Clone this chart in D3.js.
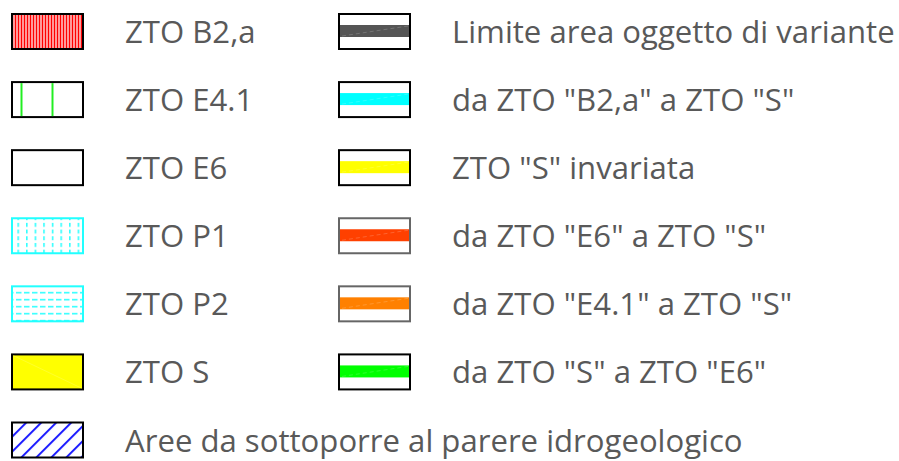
<!DOCTYPE html>
<html><head><meta charset="utf-8">
<script src="https://cdn.jsdelivr.net/npm/d3@7"></script>
<style>body{margin:0;background:#fff}svg{display:block}</style>
</head><body>
<svg id="c" width="899" height="461"></svg>
<script>
// legend data
const leftLabels = ["ZTO B2,a","ZTO E4.1","ZTO E6","ZTO P1","ZTO P2","ZTO S","Aree da sottoporre al parere idrogeologico"];
const leftKinds  = ["redStripes","greenLines","plain","cyanVDash","cyanHDash","yellow","blueHatch"];
const rightLabels = ["Limite area oggetto di variante","da ZTO \"B2,a\" a ZTO \"S\"","ZTO \"S\" invariata","da ZTO \"E6\" a ZTO \"S\"","da ZTO \"E4.1\" a ZTO \"S\"","da ZTO \"S\" a ZTO \"E6\""];
const rightBands  = ["#555555","#00ffff","#ffff00","#ff4000","#ff8000","#00ff00"];
const rightBorders = ["#000","#000","#000","#666","#666","#000"];

const svg = d3.select("#c");
const defs = svg.append("defs");

// patterns
const p1 = defs.append("pattern").attr("id","redStripes").attr("patternUnits","userSpaceOnUse").attr("width",3).attr("height",10);
p1.append("rect").attr("width",3).attr("height",10).attr("fill","#fff");
p1.append("rect").attr("x",0.6).attr("width",1.8).attr("height",10).attr("fill","#ff0000");

const p2 = defs.append("pattern").attr("id","cyanVDash").attr("patternUnits","userSpaceOnUse").attr("x",15).attr("y",220).attr("width",8.6).attr("height",6.7);
p2.append("rect").attr("width",1.6).attr("height",4).attr("fill","#33ffff");

const p3 = defs.append("pattern").attr("id","cyanHDash").attr("patternUnits","userSpaceOnUse").attr("x",13).attr("y",286.5).attr("width",8).attr("height",7);
p3.append("rect").attr("width",5.5).attr("height",1.6).attr("fill","#33ffff");

const p4 = defs.append("pattern").attr("id","blueHatch").attr("patternUnits","userSpaceOnUse").attr("width",10.6).attr("height",10).attr("patternTransform","rotate(45)");
p4.append("rect").attr("width",10.6).attr("height",10).attr("fill","#fff");
p4.append("rect").attr("x",0).attr("width",2).attr("height",10).attr("fill","#1a1aff");

const y = d3.scalePoint().domain(d3.range(leftLabels.length)).range([31.5, 440]);
const boxW = 73, boxH = 37;
const leftX = 11, rightX = 338;
const leftTextX = 125, rightTextX = 452;

const fontFamily = "'Open Sans', sans-serif";
// determine font size so the long label fits its measured width
const probe = svg.append("text").attr("font-family",fontFamily).attr("font-size",100).text(leftLabels[6]);
const w100 = probe.node().getComputedTextLength();
probe.remove();
const fs = 100 * 618 / w100;

// left column
const lg = svg.selectAll("g.left").data(leftLabels).join("g").attr("class","left")
  .attr("transform",(d,i)=>`translate(${leftX},${y(i)-boxH/2})`);

lg.each(function(d,i){
  const g = d3.select(this);
  const kind = leftKinds[i];
  let fill = "#fff", stroke = "#000";
  if (kind==="redStripes") fill = "url(#redStripes)";
  if (kind==="cyanVDash") { fill = "url(#cyanVDash)"; stroke = "#22ffff"; }
  if (kind==="cyanHDash") { fill = "url(#cyanHDash)"; stroke = "#22ffff"; }
  if (kind==="yellow") fill = "#ffff00";
  if (kind==="blueHatch") fill = "url(#blueHatch)";
  g.append("rect").attr("x",1).attr("y",1).attr("width",boxW-2).attr("height",boxH-2)
    .attr("fill",fill).attr("stroke",stroke).attr("stroke-width",2);
  if (kind==="greenLines") {
    g.selectAll("line.gl").data([10.5, 41.5]).join("line").attr("class","gl")
      .attr("x1",v=>v).attr("x2",v=>v).attr("y1",2).attr("y2",boxH-2)
      .attr("stroke","#22ee22").attr("stroke-width",2);
  }
  if (kind==="yellow") {
    g.append("line").attr("x1",2).attr("y1",2).attr("x2",boxW-2).attr("y2",boxH-2)
      .attr("stroke","#ffffaa").attr("stroke-opacity",0.5).attr("stroke-width",0.5);
  }
});

svg.selectAll("text.ll").data(leftLabels).join("text").attr("class","ll")
  .attr("x",leftTextX).attr("y",(d,i)=>y(i)+fs*0.37)
  .attr("font-family",fontFamily).attr("font-size",fs).attr("fill","#595959").text(d=>d);

// right column
const rg = svg.selectAll("g.right").data(rightLabels).join("g").attr("class","right")
  .attr("transform",(d,i)=>`translate(${rightX},${y(i)-boxH/2})`);
rg.each(function(d,i){
  const g = d3.select(this);
  g.append("rect").attr("x",1).attr("y",1).attr("width",boxW-2).attr("height",boxH-2)
    .attr("fill","#fff").attr("stroke",rightBorders[i]).attr("stroke-width",2);
  g.append("rect").attr("x",2).attr("y",boxH/2-6.5).attr("width",boxW-4).attr("height",12)
    .attr("fill",rightBands[i]);
  g.append("line").attr("x1",4).attr("y1",boxH/2+4.5).attr("x2",boxW-3).attr("y2",boxH/2-5.5)
    .attr("stroke","#fff").attr("stroke-opacity",0.3).attr("stroke-width",0.6).attr("stroke-dasharray","4 3");
});

svg.selectAll("text.rl").data(rightLabels).join("text").attr("class","rl")
  .attr("x",rightTextX).attr("y",(d,i)=>y(i)+fs*0.37)
  .attr("font-family",fontFamily).attr("font-size",fs).attr("fill","#595959").text(d=>d);
</script>
</body></html>
